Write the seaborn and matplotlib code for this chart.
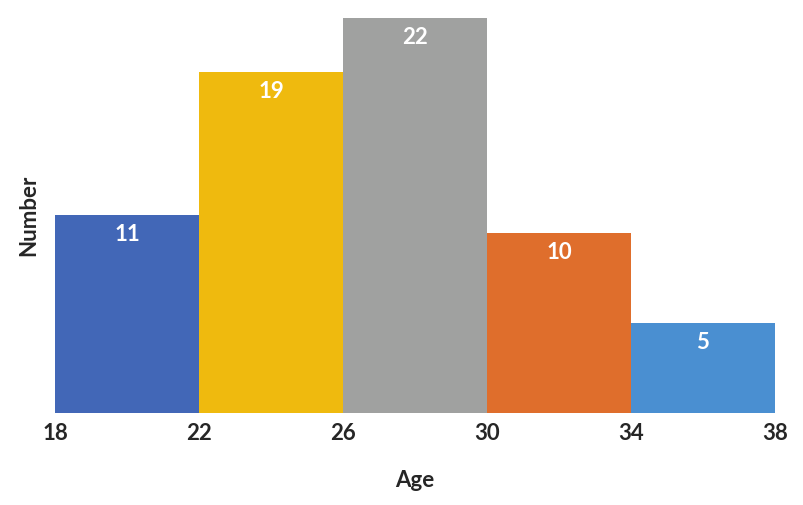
import matplotlib
matplotlib.use("Agg")
import matplotlib.pyplot as plt
import seaborn as sns
import pandas as pd

# bin edges and counts
bin_edges = [18, 22, 26, 30, 34, 38]
counts = [11, 19, 22, 10, 5]
bar_colors = ["#4267B7", "#EFBA0E", "#A0A1A0", "#DF6E2C", "#4A8FD1"]

mids = [(a + b) / 2 for a, b in zip(bin_edges[:-1], bin_edges[1:])]
df = pd.DataFrame({"age": mids, "count": counts, "grp": [str(m) for m in mids]})

sns.set_style("white")
plt.rcParams["font.family"] = ["Lato", "DejaVu Sans"]

fig = plt.figure(figsize=(8.04, 5.05), dpi=100)
ax = fig.add_axes([55 / 804, 92 / 505, 720 / 804, 395 / 505])

sns.histplot(data=df, x="age", weights="count", bins=bin_edges, hue="grp",
             palette=bar_colors, alpha=1, linewidth=0, legend=False, ax=ax)

for m, c in zip(mids, counts):
    ax.annotate(str(c), (m, c), xytext=(0, -14), textcoords="offset points",
                ha="center", va="center", color="white", fontsize=16, fontweight="bold")

ax.set_xlim(18, 38)
ax.set_ylim(0, 22)
ax.set_xticks(bin_edges)
ax.set_xticklabels([str(b) for b in bin_edges], fontsize=16, fontweight="bold")
ax.set_yticks([])
ax.tick_params(axis="x", length=0, pad=7)
ax.set_xlabel("Age", fontsize=16, fontweight="bold", labelpad=19)
ax.set_ylabel("Number", fontsize=16, fontweight="bold", labelpad=11)

sns.despine(ax=ax, left=True, bottom=True)

fig.savefig("out.png", dpi=100)
